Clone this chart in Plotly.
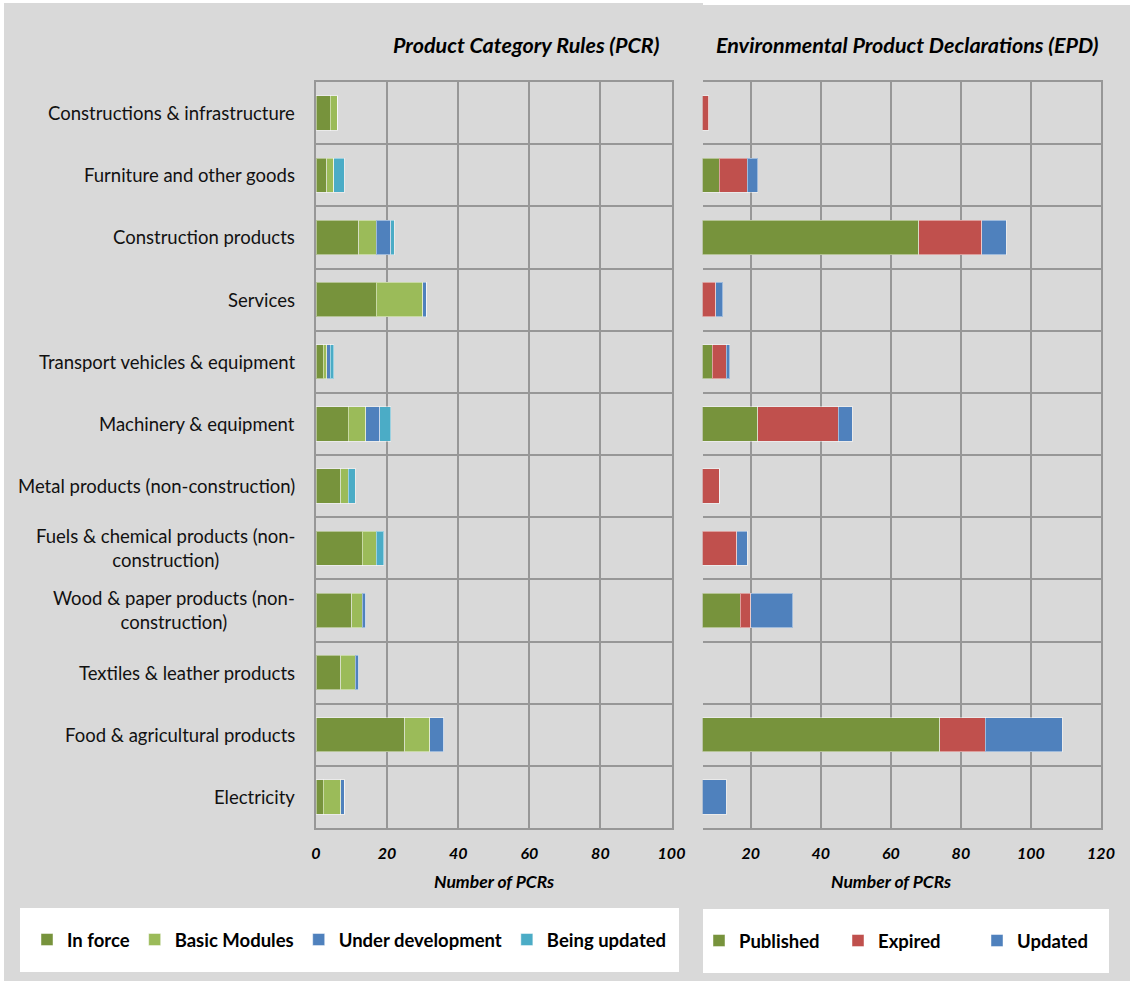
import plotly.graph_objects as go

W, H = 1130, 981

# Product groups, listed top to bottom
categories = [
    "Constructions & infrastructure",
    "Furniture and other goods",
    "Construction products",
    "Services",
    "Transport vehicles & equipment",
    "Machinery & equipment",
    "Metal products (non-construction)",
    "Fuels & chemical products (non-construction)",
    "Wood & paper products (non-construction)",
    "Textiles & leather products",
    "Food & agricultural products",
    "Electricity",
]
category_labels = [
    "Constructions & infrastructure",
    "Furniture and other goods",
    "Construction products",
    "Services",
    "Transport vehicles & equipment",
    "Machinery & equipment",
    "Metal products (non-construction)",
    "Fuels & chemical products (non-<br>construction)",
    "Wood & paper products (non-<br>construction)",
    "Textiles & leather products",
    "Food & agricultural products",
    "Electricity",
]

# Product Category Rules (number of PCRs)
pcr_in_force = [4, 3, 12, 17, 2, 9, 7, 13, 10, 7, 25, 2]
pcr_basic_modules = [2, 2, 5, 13, 1, 5, 2, 4, 3, 4, 7, 5]
pcr_under_development = [0, 0, 4, 1, 1, 4, 0, 0, 1, 1, 4, 1]
pcr_being_updated = [0, 3, 1, 0, 1, 3, 2, 2, 0, 0, 0, 0]

# Environmental Product Declarations
epd_published = [0, 11, 68, 0, 9, 22, 0, 0, 17, 0, 74, 0]
epd_expired = [8, 8, 18, 10, 4, 23, 11, 16, 3, 0, 13, 0]
epd_updated = [0, 3, 7, 2, 1, 4, 0, 3, 12, 0, 22, 13]

pcr_ticks = [0, 20, 40, 60, 80, 100]
epd_ticks = [20, 40, 60, 80, 100, 120]

GREEN = "#77933c"
LIGHT_GREEN = "#9bbb59"
BLUE = "#4f81bd"
CYAN = "#4bacc6"
RED = "#c0504d"
GRID = "#979797"
PANEL = "#d9d9d9"
FONT = "Lato"

def px_x(v):
    return v / W

def px_y(v):
    return 1 - v / H

fig = go.Figure()

pcr_series = [
    ("In force", pcr_in_force, GREEN),
    ("Basic Modules", pcr_basic_modules, LIGHT_GREEN),
    ("Under development", pcr_under_development, BLUE),
    ("Being updated", pcr_being_updated, CYAN),
]
for name, vals, color in pcr_series:
    fig.add_trace(go.Bar(
        y=categories, x=vals, orientation="h", name=name,
        marker=dict(color=color, line=dict(color="rgba(255,255,255,0.45)", width=1)),
        xaxis="x", yaxis="y", legend="legend",
    ))

epd_series = [
    ("Published", epd_published, GREEN),
    ("Expired", epd_expired, RED),
    ("Updated", epd_updated, BLUE),
]
for name, vals, color in epd_series:
    fig.add_trace(go.Bar(
        y=categories, x=vals, orientation="h", name=name,
        marker=dict(color=color, line=dict(color="rgba(255,255,255,0.45)", width=1)),
        xaxis="x2", yaxis="y2", legend="legend2",
    ))

tick_font = dict(family=FONT, size=16, color="#000000", weight="bold", style="italic")
y_dom = [px_y(828), px_y(82)]

common_x = dict(
    showgrid=True, gridcolor=GRID, gridwidth=2, zeroline=False,
    showline=True, linecolor=GRID, linewidth=2, mirror=True,
    ticks="", tickfont=tick_font, ticklabelstandoff=10, fixedrange=True,
    automargin=False,
)
common_y = dict(
    type="category", categoryorder="array", categoryarray=categories,
    autorange="reversed", tickson="boundaries", showgrid=True,
    gridcolor=GRID, gridwidth=2, showticklabels=False, ticks="",
    domain=y_dom, fixedrange=True, automargin=False,
)

legend_font = dict(family=FONT, size=18.5, weight="bold", color="#000000")

fig.update_layout(
    width=W, height=H, autosize=False,
    margin=dict(l=0, r=0, t=0, b=0, autoexpand=False),
    paper_bgcolor="#ffffff", plot_bgcolor="#ffffff",
    barmode="stack", bargap=0.45,
    font=dict(family=FONT, color="#000000"),
    xaxis=dict(domain=[px_x(316), px_x(671.5)], range=[0, 100],
               tickvals=pcr_ticks, anchor="y", **common_x),
    yaxis=dict(anchor="x", showline=True, linecolor=GRID, linewidth=2,
               mirror=True, **common_y),
    xaxis2=dict(domain=[px_x(702.7), px_x(1101)], range=[6.3, 120],
                tickvals=epd_ticks, anchor="y2", **common_x),
    yaxis2=dict(anchor="x2", side="right", showline=True, linecolor=GRID,
                linewidth=2, mirror=False, **common_y),
    legend=dict(
        orientation="h", x=px_x(27), xanchor="left", y=px_y(940), yanchor="middle",
        bgcolor="rgba(0,0,0,0)", font=legend_font, traceorder="normal",
    ),
    legend2=dict(
        orientation="h", x=px_x(699), xanchor="left", y=px_y(941), yanchor="middle",
        bgcolor="rgba(0,0,0,0)", font=legend_font, traceorder="normal",
        entrywidth=94,
    ),
)

# Background panels and legend boxes
shapes = [
    dict(type="rect", xref="paper", yref="paper", x0=px_x(4), x1=px_x(703),
         y0=0, y1=px_y(3), fillcolor=PANEL, line_width=0, layer="below"),
    dict(type="rect", xref="paper", yref="paper", x0=px_x(703), x1=1,
         y0=0, y1=px_y(5), fillcolor=PANEL, line_width=0, layer="below"),
    dict(type="rect", xref="paper", yref="paper", x0=px_x(20), x1=px_x(679),
         y0=px_y(972), y1=px_y(908), fillcolor="#ffffff", line_width=0, layer="below"),
    dict(type="rect", xref="paper", yref="paper", x0=px_x(703), x1=px_x(1109),
         y0=px_y(973), y1=px_y(909), fillcolor="#ffffff", line_width=0, layer="below"),
]
fig.update_layout(shapes=shapes)

annotations = []
for cat, label in zip(categories, category_labels):
    annotations.append(dict(
        text=label, xref="paper", yref="y", x=px_x(297), y=cat,
        xanchor="right", yanchor="middle", align="center", showarrow=False,
        font=dict(family=FONT, size=18.5, color="#111111"),
    ))

title_font = dict(family=FONT, size=21.5, color="#000000", weight="bold", style="italic")
axis_title_font = dict(family=FONT, size=17.5, color="#000000", weight="bold", style="italic")
annotations += [
    dict(text="Product Category Rules (PCR)", xref="paper", yref="paper",
         x=px_x(662), y=px_y(45), xanchor="right", yanchor="middle",
         showarrow=False, font=title_font),
    dict(text="Environmental Product Declarations (EPD)", xref="paper", yref="paper",
         x=px_x(1101), y=px_y(45), xanchor="right", yanchor="middle",
         showarrow=False, font=title_font),
    dict(text="Number of PCRs", xref="paper", yref="paper",
         x=px_x(494), y=px_y(881), xanchor="center", yanchor="middle",
         showarrow=False, font=axis_title_font),
    dict(text="Number of PCRs", xref="paper", yref="paper",
         x=px_x(891), y=px_y(881), xanchor="center", yanchor="middle",
         showarrow=False, font=axis_title_font),
]
fig.update_layout(annotations=annotations)

fig.write_html("out.html")
